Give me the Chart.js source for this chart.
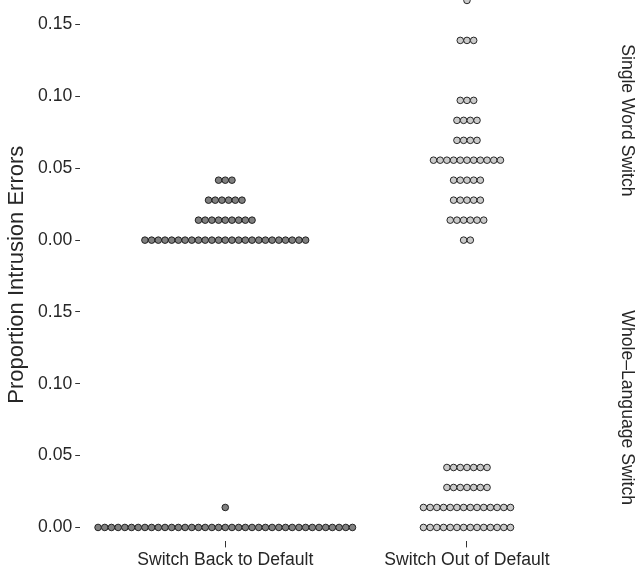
<!DOCTYPE html>
<html>
<head>
<meta charset="utf-8">
<script src="https://cdn.jsdelivr.net/npm/chart.js@4.4.1/dist/chart.umd.min.js"></script>
<style>
  html, body { margin: 0; padding: 0; background: #fff; }
  #wrap { width: 641px; height: 569px; }
</style>
</head>
<body>
<div id="wrap"><canvas id="dotChart" width="641" height="569"></canvas></div>
<script>
// Proportion bins (steps of 1/72) and how many dots sit in each bin
const bins = [0, 0.0139, 0.0278, 0.0417, 0.0556, 0.0694, 0.0833, 0.0972, 0.1111, 0.125, 0.1389, 0.1528, 0.1667];
const categories = ['Switch Back to Default', 'Switch Out of Default'];
const panels = ['Single Word Switch', 'Whole\u2013Language Switch'];

const singleBackCounts = [25, 9, 6, 3];
const singleOutCounts = [2, 6, 5, 5, 11, 4, 4, 3, 0, 0, 3, 0, 1];
const wholeBackCounts = [39, 1];
const wholeOutCounts = [14, 14, 7, 7];

const yTicks = [0, 0.05, 0.10, 0.15];

const dotStep = 0.0277; // one dot width, in x units
const textColor = '#262626';
const fontFamily = "'Liberation Sans', Arial, Helvetica, sans-serif";

// lay the dots of each bin side by side, centred on the category
function stackDots(counts, catIndex) {
    const pts = [];
    counts.forEach((n, k) => {
        for (let i = 0; i < n; i++) {
            pts.push({ x: catIndex + 1 + (i - (n - 1) / 2) * dotStep, y: bins[k] });
        }
    });
    return pts;
}

function dotSet(counts, catIndex, axis) {
    return {
        data: stackDots(counts, catIndex),
        yAxisID: axis,
        backgroundColor: catIndex === 0 ? '#808080' : '#cbcbcb',
        borderColor: '#141414',
        borderWidth: 0.9,
        pointRadius: 3.3,
        pointHoverRadius: 3.3,
        clip: false
    };
}

const yAxisBase = {
    type: 'linear',
    position: 'left',
    stack: 'panels',
    afterBuildTicks: scale => { scale.ticks = yTicks.map(v => ({ value: v })); },
    // let the top panel run to the canvas edge, like the cropped figure
    afterFit: scale => { scale.paddingTop = 0; scale.paddingBottom = 0; },
    ticks: {
        callback: v => Number(v).toFixed(2),
        color: textColor,
        font: { family: fontFamily, size: 17.6 },
        padding: 3
    },
    grid: { drawOnChartArea: false, tickLength: 5, tickColor: '#333', tickWidth: 1 },
    border: { display: false }
};

// axis title and facet strip labels
const labelPlugin = {
    id: 'facetLabels',
    afterDraw(chart) {
        const ctx = chart.ctx;
        const area = chart.chartArea;
        ctx.save();
        ctx.fillStyle = textColor;
        ctx.textAlign = 'center';
        ctx.textBaseline = 'middle';

        ctx.font = `22px ${fontFamily}`;
        ctx.translate(17, (area.top + area.bottom) / 2 + 4);
        ctx.rotate(-Math.PI / 2);
        ctx.fillText('Proportion Intrusion Errors', 0, 0);
        ctx.restore();

        ctx.save();
        ctx.fillStyle = textColor;
        ctx.textAlign = 'center';
        ctx.textBaseline = 'middle';
        ctx.font = `17.6px ${fontFamily}`;
        [['yTop', panels[0]], ['yBot', panels[1]]].forEach(([id, text]) => {
            const y = chart.scales[id].getPixelForValue(0.0833);
            ctx.save();
            ctx.translate(627, y);
            ctx.rotate(Math.PI / 2);
            ctx.fillText(text, 0, 0);
            ctx.restore();
        });
        ctx.restore();
    }
};

const ctx = document.getElementById('dotChart').getContext('2d');

new Chart(ctx, {
    type: 'scatter',
    data: {
        datasets: [
            dotSet(singleBackCounts, 0, 'yTop'),
            dotSet(singleOutCounts, 1, 'yTop'),
            dotSet(wholeBackCounts, 0, 'yBot'),
            dotSet(wholeOutCounts, 1, 'yBot')
        ]
    },
    options: {
        responsive: false,
        animation: false,
        events: [],
        layout: { autoPadding: false, padding: { left: 35, right: 29, top: 0, bottom: -4 } },
        plugins: {
            legend: { display: false },
            tooltip: { enabled: false }
        },
        scales: {
            x: {
                type: 'linear',
                min: 0.4,
                max: 2.6,
                afterBuildTicks: scale => { scale.ticks = [{ value: 1 }, { value: 2 }]; },
                ticks: {
                    callback: v => categories[Math.round(v) - 1],
                    color: textColor,
                    font: { family: fontFamily, size: 17.6, lineHeight: 1 },
                    padding: 4,
                    maxRotation: 0,
                    autoSkip: false
                },
                grid: { drawOnChartArea: false, tickLength: 6, tickColor: '#333', tickWidth: 1 },
                border: { display: false }
            },
            yBot: Object.assign({}, yAxisBase, { min: -0.0097, max: 0.175, stackWeight: 0.1847 }),
            yTop: Object.assign({}, yAxisBase, { min: -0.0248, max: 0.167, stackWeight: 0.1918 })
        }
    },
    plugins: [labelPlugin]
});
</script>
</body>
</html>
